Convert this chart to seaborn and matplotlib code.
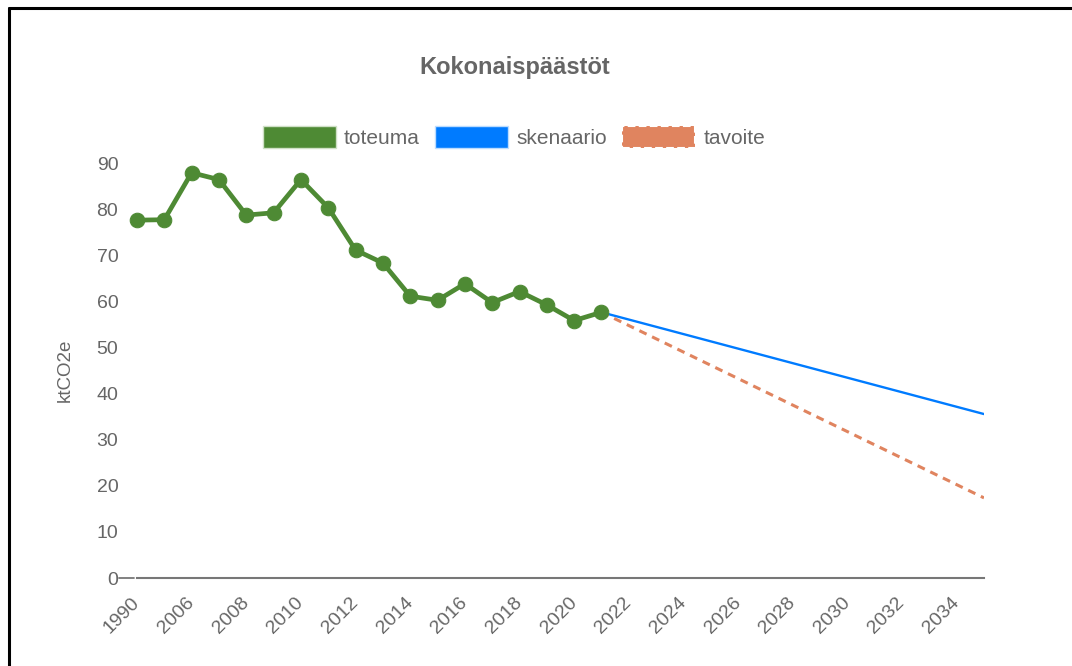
import pandas as pd
import matplotlib.pyplot as plt
import seaborn as sns
from matplotlib.patches import Patch
from matplotlib.lines import Line2D

# Categories on the x axis (categorical, as in the original chart)
years = ["1990", "2005", "2006", "2007", "2008", "2009", "2010", "2011",
         "2012", "2013", "2014", "2015", "2016", "2017", "2018", "2019",
         "2020", "2021", "2022", "2023", "2024", "2025", "2026", "2027",
         "2028", "2029", "2030", "2031", "2032", "2033", "2034", "2035"]

# Measured emissions (toteuma)
toteuma_years = ["1990", "2005", "2006", "2007", "2008", "2009", "2010", "2011",
                 "2012", "2013", "2014", "2015", "2016", "2017", "2018", "2019",
                 "2020", "2021"]
toteuma = [77.7, 77.8, 88.0, 86.5, 78.8, 79.3, 86.5, 80.4,
           71.2, 68.4, 61.2, 60.3, 63.9, 59.8, 62.2, 59.3, 55.9, 57.7]

# Scenario and target lines
skenaario_years = ["2021", "2035"]
skenaario = [57.7, 35.6]
tavoite_years = ["2021", "2035"]
tavoite = [57.7, 17.4]

green = "#4e8a34"
blue = "#007bff"
orange = "#e0845f"
grey = "#666666"

sns.set_style("white")
plt.rcParams["font.family"] = ["Liberation Sans", "DejaVu Sans"]

fig = plt.figure(figsize=(10.72, 6.66), dpi=100)
ax = fig.add_axes([0.1278, 0.1321, 0.7901, 0.6224])


def to_df(yrs, vals):
    return pd.DataFrame({"pos": [years.index(y) for y in yrs], "value": vals})


sns.lineplot(data=to_df(skenaario_years, skenaario), x="pos", y="value",
             color=blue, lw=1.7, ax=ax, zorder=2)
sns.lineplot(data=to_df(tavoite_years, tavoite), x="pos", y="value",
             color=orange, lw=2.2, linestyle=(0, (2.6, 2.0)), ax=ax, zorder=2)
sns.lineplot(data=to_df(toteuma_years, toteuma), x="pos", y="value",
             color=green, lw=3.4, marker="o", markersize=10.5,
             markeredgecolor=green, markerfacecolor=green, ax=ax,
             zorder=3, clip_on=False)

ax.set_xlim(0, len(years) - 1)
ax.set_ylim(0, 90)
ax.set_yticks(range(0, 91, 10))
ax.set_xticks(range(0, len(years), 2))
ax.set_xticklabels(years[::2], rotation=45, ha="right", rotation_mode="anchor",
                   va="center")
ax.tick_params(axis="x", length=0, pad=16, labelsize=14, labelcolor=grey)
ax.tick_params(axis="y", length=0, pad=13.5, labelsize=14, labelcolor=grey)

# small tick mark next to the zero label
ax.add_line(Line2D([-0.021, -0.003], [0, 0], color="#777777", lw=1.3,
                   transform=ax.get_yaxis_transform(), clip_on=False))

ax.set_xlabel("")
ax.set_ylabel("ktCO2e", fontsize=13.5, color=grey, labelpad=16)
ax.grid(False)
for side in ["top", "right", "left"]:
    ax.spines[side].set_visible(False)
ax.spines["bottom"].set_color("#777777")
ax.spines["bottom"].set_linewidth(1.5)

fig.suptitle("Kokonaispäästöt", x=0.480, y=0.898, va="center", fontsize=17,
             fontweight="bold", color=grey)

handles = [
    Patch(facecolor=green, edgecolor="#cfe0c6", lw=1),
    Patch(facecolor=blue, edgecolor="#bcdcff", lw=1),
    Patch(facecolor=orange, edgecolor="white", lw=1.5, linestyle="--"),
]
fig.legend(handles, ["toteuma", "skenaario", "tavoite"], ncol=3,
           loc="center", bbox_to_anchor=(0.4795, 0.794), frameon=False,
           fontsize=15, labelcolor=grey, handlelength=3.5, handleheight=1.2,
           handletextpad=0.38, columnspacing=0.75)

# frame lines of the screenshot (top and left only)
fig.add_artist(Line2D([0.008, 1.0], [0.988, 0.988], color="black", lw=2.2,
                      transform=fig.transFigure))
fig.add_artist(Line2D([0.0088, 0.0088], [0.0, 0.988], color="black", lw=2.2,
                      transform=fig.transFigure))

fig.savefig("out.png", dpi=100)
